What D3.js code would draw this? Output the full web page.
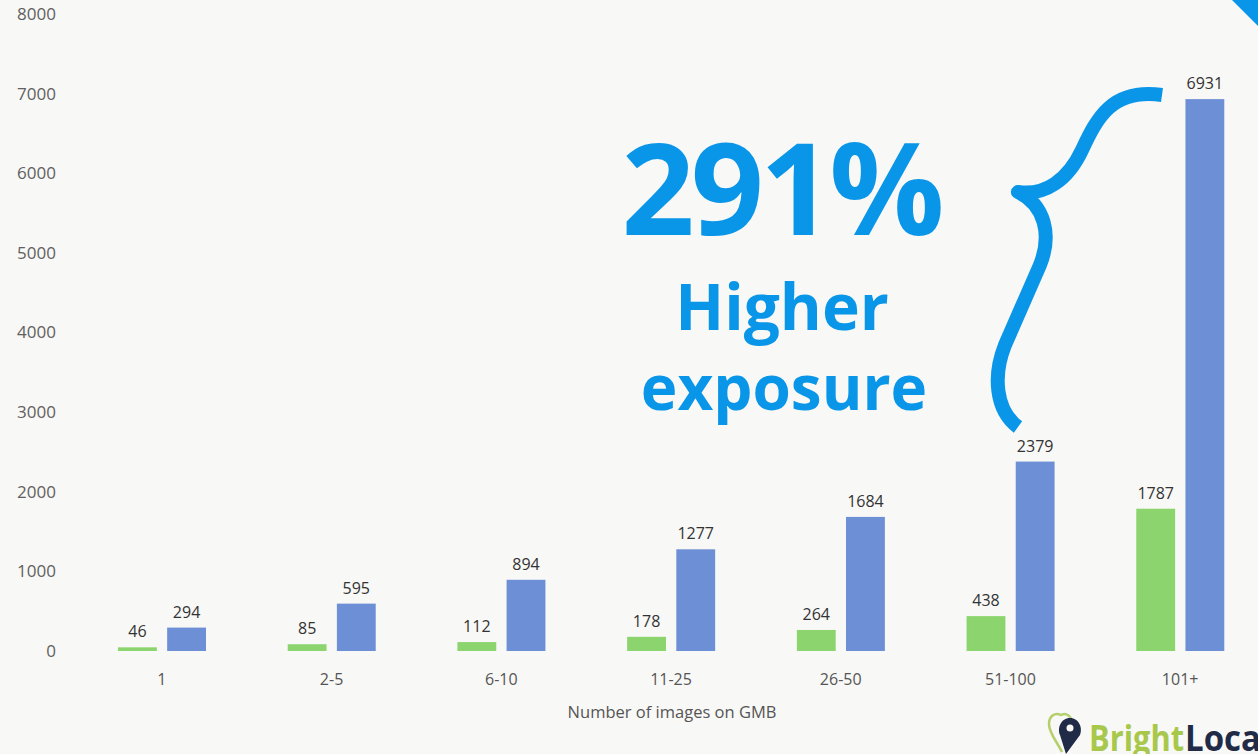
<!DOCTYPE html>
<html>
<head>
<meta charset="utf-8">
<script src="https://cdn.jsdelivr.net/npm/d3@7"></script>
<style>
  html, body { margin: 0; padding: 0; background: #f8f8f6; }
  svg { display: block; }
</style>
</head>
<body>
<div id="chart-area"></div>
<script>
// chart data
let categories = ["1", "2-5", "6-10", "11-25", "26-50", "51-100", "101+"];
let seriesNames = ["before", "after"];
let greenValues = [46, 85, 112, 178, 264, 438, 1787];
let blueValues = [294, 595, 894, 1277, 1684, 2379, 6931];
let yTickValues = [0, 1000, 2000, 3000, 4000, 5000, 6000, 7000, 8000];

let width = 1258,
    height = 754;

let svg = d3.select("#chart-area")
    .append("svg")
    .attr("width", width)
    .attr("height", height);

svg.append("rect")
    .attr("width", width)
    .attr("height", height)
    .attr("fill", "#f8f8f6");

// scales
let x0 = d3.scaleBand()
    .domain(categories)
    .range([77, 1265]);

let x1 = d3.scaleBand()
    .domain(seriesNames)
    .range([41, 129])
    .paddingInner(0.21);

let y = d3.scaleLinear()
    .domain([0, 8000])
    .range([651, 14]);

let colors = { before: "#8bd46e", after: "#6d8fd5" };

// y axis, labels only
let yAxis = svg.append("g")
    .attr("transform", "translate(56,0)")
    .call(d3.axisLeft(y).tickValues(yTickValues).tickSize(0).tickPadding(0).tickFormat(d3.format("d")));
yAxis.select(".domain").remove();
yAxis.selectAll("text")
    .attr("fill", "#606060")
    .style("font-family", "'Open Sans', sans-serif")
    .style("font-size", "17px");

// x axis, labels only
let xAxis = svg.append("g")
    .attr("transform", "translate(0,667)")
    .call(d3.axisBottom(x0).tickSize(0).tickPadding(0));
xAxis.select(".domain").remove();
xAxis.selectAll("text")
    .attr("fill", "#555")
    .attr("dy", "1.1em")
    .style("font-family", "'Open Sans', sans-serif")
    .style("font-size", "16px");

svg.append("text")
    .attr("x", 672)
    .attr("y", 718)
    .attr("text-anchor", "middle")
    .attr("fill", "#555")
    .style("font-family", "'Open Sans', sans-serif")
    .style("font-size", "16.5px")
    .text("Number of images on GMB");

// bars
let rows = categories.map((c, i) => ({ cat: c, before: greenValues[i], after: blueValues[i] }));

let groups = svg.selectAll(".group")
    .data(rows)
    .enter().append("g")
    .attr("class", "group")
    .attr("transform", d => "translate(" + x0(d.cat) + ",0)");

let cells = groups.selectAll(".cell")
    .data(d => seriesNames.map(k => ({ key: k, value: d[k] })))
    .enter().append("g")
    .attr("class", "cell");

cells.append("rect")
    .attr("x", d => x1(d.key))
    .attr("y", d => y(d.value))
    .attr("width", x1.bandwidth())
    .attr("height", d => y(0) - y(d.value))
    .attr("fill", d => colors[d.key]);

cells.append("text")
    .attr("x", d => x1(d.key) + x1.bandwidth() / 2)
    .attr("y", d => y(d.value) - 10)
    .attr("text-anchor", "middle")
    .attr("fill", "#333")
    .style("font-family", "'Open Sans', sans-serif")
    .style("font-size", "16px")
    .text(d => d.value);

// annotation
let annoBlue = "#0a96e8";

svg.append("text")
    .attr("x", 781)
    .attr("y", 235)
    .attr("text-anchor", "middle")
    .attr("fill", annoBlue)
    .style("font-family", "'Open Sans', sans-serif")
    .style("font-weight", 700)
    .style("font-size", "128px")
    .style("letter-spacing", "-4px")
    .text("291%");

svg.append("text")
    .attr("x", 782)
    .attr("y", 330)
    .attr("text-anchor", "middle")
    .attr("fill", annoBlue)
    .style("font-family", "'Open Sans', sans-serif")
    .style("font-weight", 700)
    .style("font-size", "64px")
    .text("Higher");

svg.append("text")
    .attr("x", 784)
    .attr("y", 410)
    .attr("text-anchor", "middle")
    .attr("fill", annoBlue)
    .style("font-family", "'Open Sans', sans-serif")
    .style("font-weight", 700)
    .style("font-size", "62px")
    .text("exposure");

// curly brace
svg.append("path")
    .attr("d", "M1162,95 C1112,88 1097,118 1082,150 C1068,180 1045,196 1018,192 C1045,205 1052,235 1040,265 L1005,345 C993,375 995,410 1018,427")
    .attr("fill", "none")
    .attr("stroke", annoBlue)
    .attr("stroke-width", 14)
    .attr("stroke-linejoin", "round");

// corner triangle
svg.append("path")
    .attr("d", "M1232,0 L1258,0 L1258,26 Z")
    .attr("fill", annoBlue);

// logo
let logo = svg.append("g");
logo.append("path")
    .attr("d", "M1062,752 C1056,740 1049,733 1049,724 C1049,716 1055,712 1061,715 C1066,712 1072,716 1072,724")
    .attr("fill", "none")
    .attr("stroke", "#b5cf6a")
    .attr("stroke-width", 2.5);
logo.append("path")
    .attr("d", "M1066,754 L1060,735 C1057,728 1061,718 1070,718 C1079,718 1083,728 1080,735 Z")
    .attr("fill", "#1f2b47");
logo.append("circle")
    .attr("cx", 1070)
    .attr("cy", 728)
    .attr("r", 3.5)
    .attr("fill", "#f8f8f6");
logo.append("text")
    .attr("x", 1089)
    .attr("y", 751)
    .attr("fill", "#a8c84c")
    .attr("textLength", 95)
    .attr("lengthAdjust", "spacingAndGlyphs")
    .style("font-family", "'Open Sans', sans-serif")
    .style("font-weight", 700)
    .style("font-size", "36px")
    .text("Bright");
logo.append("text")
    .attr("x", 1185)
    .attr("y", 751)
    .attr("fill", "#1f2b47")
    .attr("textLength", 86)
    .attr("lengthAdjust", "spacingAndGlyphs")
    .style("font-family", "'Open Sans', sans-serif")
    .style("font-weight", 700)
    .style("font-size", "36px")
    .text("Local");
</script>
</body>
</html>
